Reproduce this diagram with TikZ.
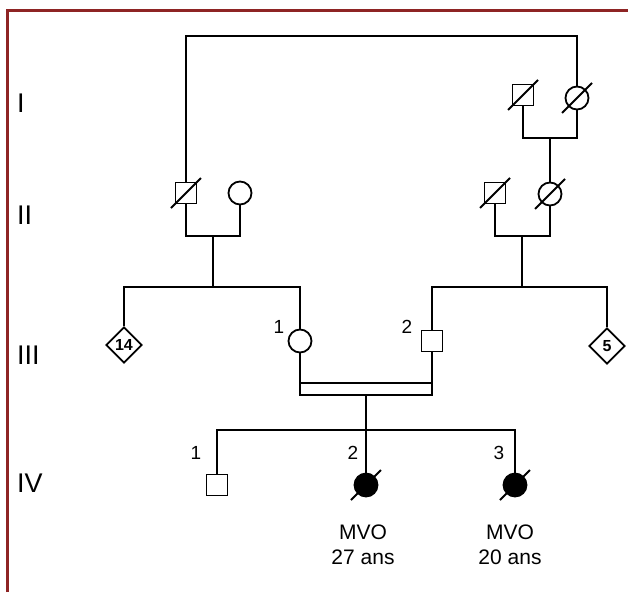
\documentclass[tikz,border=0pt]{standalone}
\usepackage{fontspec}
\setmainfont{Liberation Sans}
\usetikzlibrary{shapes.geometric}
\definecolor{framered}{HTML}{8E2424}
\newcommand\deadmark[1]{\draw[link] ([shift={(-15,15)}]#1.center) -- ([shift={(15,-15)}]#1.center);}
\begin{document}
\begin{tikzpicture}[x=1pt,y=-1pt,
 link/.style={line width=1.8pt, line join=miter},
 male/.style={draw, rectangle, minimum size=21pt, inner sep=0pt, line width=1.8pt},
 female/.style={draw, circle, minimum size=23pt, inner sep=0pt, line width=1.8pt},
 unk/.style={draw, diamond, minimum size=36pt, inner sep=0pt, line width=1.8pt, font=\bfseries\fontsize{16}{16}\selectfont},
 affected/.style={fill=black},
 gen/.style={font=\fontsize{27}{27}\selectfont, anchor=west, inner sep=0pt},
 num/.style={font=\fontsize{19}{19}\selectfont, inner sep=0pt},
 lab/.style={font=\fontsize{21}{25}\selectfont, align=center, inner sep=0pt}]
\useasboundingbox (0,0) rectangle (628,592);
\fill[white] (0,0) rectangle (628,592);
\draw[framered, line width=3pt] (7,592) -- (7,10) -- (628,10);

% generation labels
\node[gen] (gI) at (17,103) {I};
\node[gen] (gII) at (17,215) {II};
\node[gen] (gIII) at (17,355) {III};
\node[gen] (gIV) at (17,483) {IV};

% helper levels
\coordinate (ytop) at (0,36);
\coordinate (yI) at (0,138);
\coordinate (yII) at (0,236);
\coordinate (ysibIII) at (0,287);
\coordinate (ydblA) at (0,383);
\coordinate (ydblB) at (0,395);
\coordinate (ysibIV) at (0,430);

% generation I
\node[male] (I1) at (523,95) {};
\node[female] (I2) at (577,98) {};
\deadmark{I1}
\deadmark{I2}

% generation II
\node[male] (II1) at (186,193) {};
\node[female] (II2) at (240,193) {};
\node[male] (II3) at (495,193) {};
\node[female] (II4) at (550,194) {};
\deadmark{II1}
\deadmark{II3}
\deadmark{II4}

% generation III
\node[unk] (III14) at (124,345) {14};
\node[female] (III1) at (300,341) {};
\node[male] (III2) at (432,341) {};
\node[unk] (III5) at (607,346) {5};
\node[num] (n31) at (279,327) {1};
\node[num] (n32) at (407,327) {2};

% generation IV
\node[male] (IV1) at (217,485) {};
\node[female, affected] (IV2) at (366,485) {};
\node[female, affected] (IV3) at (515,485) {};
\deadmark{IV2}
\deadmark{IV3}
\node[num] (n41) at (196,453) {1};
\node[num] (n42) at (353,453) {2};
\node[num] (n43) at (499,453) {3};
\node[lab] (t2) at (363,545) {MVO\\27 ans};
\node[lab] (t3) at (510,545) {MVO\\20 ans};

% connectors
\draw[link] (II1.north) -- (II1.north |- ytop) -| (I2.north);
\draw[link] (I1.south) -- (I1.south |- yI) -| (I2.south);
\draw[link] (II4.north) -- (II4.north |- yI);
\draw[link] (II1.south) -- (II1.south |- yII) -| (II2.south);
\draw[link] (II3.south) -- (II3.south |- yII) -| (II4.south);
\coordinate (cL) at (213,236);
\coordinate (cR) at (522,236);
\draw[link] (cL) -- (cL |- ysibIII);
\draw[link] (cR) -- (cR |- ysibIII);
\draw[link] (III14.north) -- (III14.north |- ysibIII) -| (III1.north);
\draw[link] (III2.north) -- (III2.north |- ysibIII) -| (III5.north);
\draw[link] (III1.south) -- (III1.south |- ydblB) -| (III2.south);
\draw[link] (III1.south |- ydblA) -- (III2.south |- ydblA);
\coordinate (cIV) at (366,395);
\draw[link] (cIV) -- (cIV |- ysibIV);
\draw[link] (IV1.north) -- (IV1.north |- ysibIV) -| (IV3.north);
\draw[link] (IV2.north) -- (IV2.north |- ysibIV);
\end{tikzpicture}
\end{document}
